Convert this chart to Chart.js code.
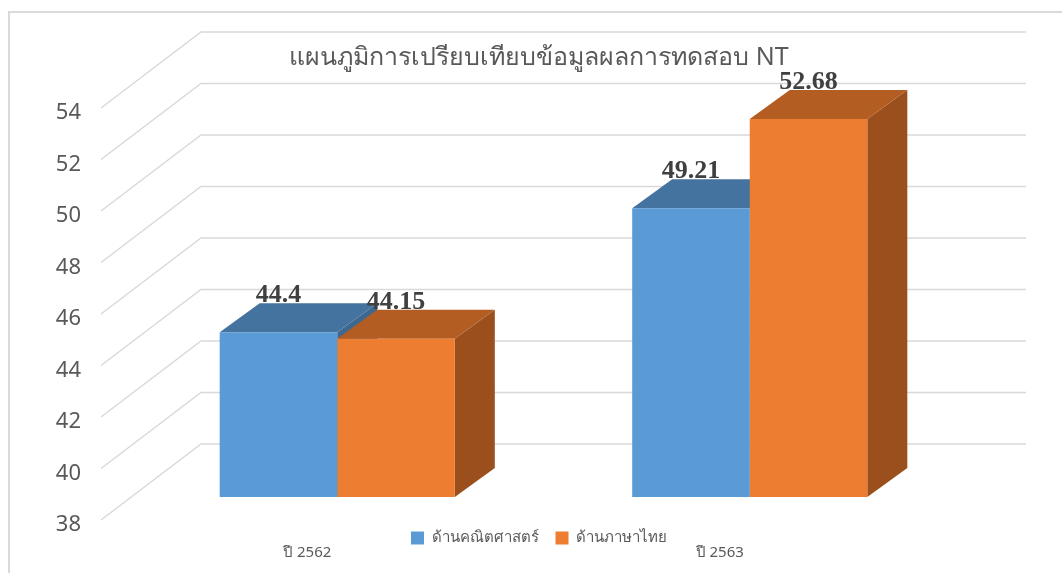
<!DOCTYPE html>
<html>
<head>
<meta charset="utf-8">
<script src="https://cdn.jsdelivr.net/npm/chart.js@4.4.1/dist/chart.umd.min.js"></script>
<style>
    html, body {margin: 0; padding: 0; background: #fff;}
    #wrap {position: relative; width: 1062px; height: 573px;}
</style>
</head>
<body>
<div id="wrap"><canvas id="nt-chart"></canvas></div>
<script>
var categories = ['ปี 2562', 'ปี 2563'];
var seriesNames = ['ด้านคณิตศาสตร์', 'ด้านภาษาไทย'];
var mathScores = [44.4, 49.21];
var thaiScores = [44.15, 52.68];
var yMin = 38, yMax = 54, yStep = 2;

// 3d look: bar depth, back wall and front edge of the side wall
var DEPTH_X = 40, DEPTH_Y = 29;
var WALL_X = 70, WALL_Y = 53;
var EDGE_X = 30, EDGE_Y = 23;

var faceColors = [
    {top: '#44739f', side: '#3d6890'},
    {top: '#b45d22', side: '#9a4f1d'}
];

var threeD = {
    id: 'threeD',
    beforeDraw: function (chart) {
        var ctx = chart.ctx;
        ctx.save();
        ctx.strokeStyle = '#d9d9d9';
        ctx.lineWidth = 2;
        ctx.beginPath();
        ctx.moveTo(9, chart.height);
        ctx.lineTo(9, 12);
        ctx.lineTo(chart.width, 12);
        ctx.stroke();
        ctx.restore();
    },
    beforeDatasetsDraw: function (chart) {
        var ctx = chart.ctx;
        var area = chart.chartArea;
        var y = chart.scales.y;
        ctx.save();
        ctx.strokeStyle = '#d9d9d9';
        ctx.lineWidth = 1.5;
        y.ticks.forEach(function (t) {
            var py = y.getPixelForValue(t.value);
            ctx.beginPath();
            ctx.moveTo(area.left - EDGE_X, py + EDGE_Y);
            ctx.lineTo(area.left + WALL_X, py - WALL_Y);
            ctx.lineTo(area.right + WALL_X, py - WALL_Y);
            ctx.stroke();
        });

        var bars = [];
        chart.data.datasets.forEach(function (ds, i) {
            chart.getDatasetMeta(i).data.forEach(function (el) {
                bars.push({el: el, c: faceColors[i]});
            });
        });
        bars.sort(function (a, b) { return a.el.x - b.el.x; });
        bars.forEach(function (b) {
            var el = b.el;
            var l = el.x - el.width / 2, r = el.x + el.width / 2;
            var base = Math.min(el.base, area.bottom);
            // side
            ctx.fillStyle = b.c.side;
            ctx.beginPath();
            ctx.moveTo(r, el.y);
            ctx.lineTo(r + DEPTH_X, el.y - DEPTH_Y);
            ctx.lineTo(r + DEPTH_X, base - DEPTH_Y);
            ctx.lineTo(r, base);
            ctx.closePath();
            ctx.fill();
            // top
            ctx.fillStyle = b.c.top;
            ctx.beginPath();
            ctx.moveTo(l, el.y);
            ctx.lineTo(l + DEPTH_X, el.y - DEPTH_Y);
            ctx.lineTo(r + DEPTH_X, el.y - DEPTH_Y);
            ctx.lineTo(r, el.y);
            ctx.closePath();
            ctx.fill();
        });
        ctx.restore();
    },
    afterDatasetsDraw: function (chart) {
        var ctx = chart.ctx;
        ctx.save();
        ctx.font = 'bold 26px "Liberation Serif", "Times New Roman", serif';
        ctx.fillStyle = '#404040';
        ctx.textAlign = 'center';
        ctx.textBaseline = 'alphabetic';
        chart.data.datasets.forEach(function (ds, i) {
            chart.getDatasetMeta(i).data.forEach(function (el, j) {
                ctx.fillText(String(ds.data[j]), el.x, el.y - 30);
            });
        });
        ctx.restore();
    }
};

var gray = '#595959';
var font = '"Noto Sans", "Open Sans", sans-serif';

new Chart(document.getElementById('nt-chart'), {
    type: 'bar',
    data: {
        labels: categories,
        datasets: [
            {label: seriesNames[0], data: mathScores, backgroundColor: '#5b9bd5'},
            {label: seriesNames[1], data: thaiScores, backgroundColor: '#ed7d31'}
        ]
    },
    options: {
        responsive: true,
        maintainAspectRatio: false,
        animation: false,
        barPercentage: 1,
        categoryPercentage: 0.57,
        layout: {padding: {left: 16, right: 0, top: 0, bottom: 13}},
        scales: {
            x: {
                weight: 2000,
                grid: {display: false, drawTicks: false},
                border: {display: false},
                ticks: {color: gray, font: {family: font, size: 15, lineHeight: 1}, padding: 0, labelOffset: -30}
            },
            y: {
                min: yMin,
                max: yMax,
                grid: {display: false, drawTicks: false},
                border: {display: false},
                ticks: {stepSize: yStep, color: gray, font: {family: font, size: 22}, padding: 50, labelOffset: 28},
                afterFit: function (s) { s.width = 115; }
            },
            yRight: {
                position: 'right',
                grid: {display: false, drawTicks: false},
                border: {display: false},
                ticks: {display: false},
                afterFit: function (s) { s.width = 106; }
            }
        },
        plugins: {
            title: {
                display: true,
                text: 'แผนภูมิการเปรียบเทียบข้อมูลผลการทดสอบ NT',
                color: gray,
                font: {family: font, size: 25, weight: 'normal'},
                padding: {top: 43, bottom: 12}
            },
            legend: {
                position: 'bottom',
                maxHeight: 48,
                title: {display: true, text: '', font: {size: 10, lineHeight: 1}, padding: {top: 0, bottom: 6.5}},
                labels: {boxWidth: 13, boxHeight: 13, padding: 17, color: gray, font: {family: font, size: 15}}
            },
            tooltip: {enabled: false}
        }
    },
    plugins: [threeD]
});
</script>
</body>
</html>
